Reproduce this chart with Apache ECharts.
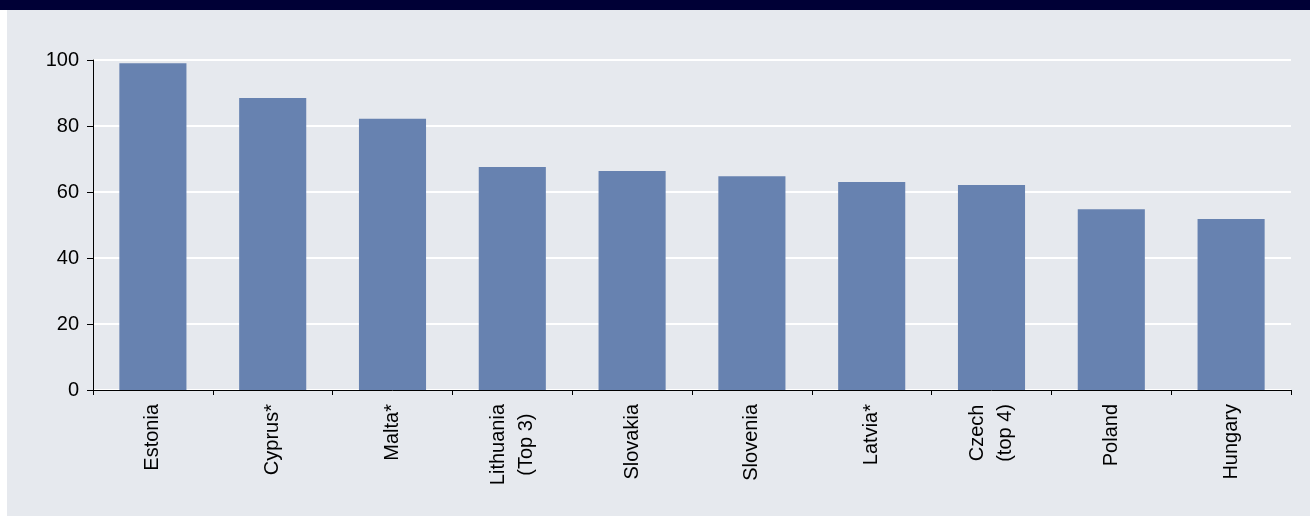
<!DOCTYPE html>
<html>
<head>
<meta charset="utf-8">
<title>Bar chart</title>
<script src="https://cdn.jsdelivr.net/npm/echarts@6/dist/echarts.min.js"></script>
<style>
  html, body { margin: 0; padding: 0; background: #ffffff; }
  #chart { width: 1310px; height: 517px; }
</style>
</head>
<body>
<div id="chart"></div>
<script>
// Countries along the category axis
const categories = ['Estonia', 'Cyprus*', 'Malta*', 'Lithuania\n(Top 3)', 'Slovakia',
                    'Slovenia', 'Latvia*', 'Czech\n(top 4)', 'Poland', 'Hungary'];
// Bar heights
const values = [99, 88.5, 82.2, 67.6, 66.4, 64.8, 63, 62.1, 54.8, 51.8];
// Value-axis ticks
const yTicks = [0, 20, 40, 60, 80, 100];

const chart = echarts.init(document.getElementById('chart'), null, { renderer: 'canvas' });

const font = 'Liberation Sans, Arial, Helvetica, sans-serif';

// Two-line names get each line centred within the label block
function categoryLabel(name) {
  const lines = name.split('\n');
  if (lines.length === 1) return name;
  return lines.map(l => '{c|' + l + '}').join('\n');
}

chart.setOption({
  animation: false,
  backgroundColor: '#ffffff',
  graphic: [
    { type: 'rect', left: 7, top: 10, z: -10, silent: true,
      shape: { width: 1303, height: 506 }, style: { fill: '#E6E9EE' } },
    { type: 'rect', left: 0, top: 0, z: -10, silent: true,
      shape: { width: 1310, height: 10 }, style: { fill: '#000036' } }
  ],
  grid: { left: 93, right: 19, top: 60, bottom: 127, containLabel: false },
  xAxis: {
    type: 'category',
    data: categories,
    axisLine: { show: true, lineStyle: { color: '#000000', width: 1 } },
    axisTick: { show: true, alignWithLabel: false, length: 5, lineStyle: { color: '#000000' } },
    axisLabel: {
      rotate: 90, interval: 0, margin: 14,
      color: '#000000', fontFamily: font, fontSize: 20, lineHeight: 28,
      formatter: categoryLabel,
      rich: {
        c: { align: 'center', color: '#000000', fontFamily: font, fontSize: 20, lineHeight: 28 }
      }
    },
    splitLine: { show: false }
  },
  yAxis: {
    type: 'value',
    min: yTicks[0],
    max: yTicks[yTicks.length - 1],
    interval: yTicks[1] - yTicks[0],
    axisLine: { show: true, lineStyle: { color: '#000000', width: 1 } },
    axisTick: { show: true, length: 6, lineStyle: { color: '#000000' } },
    axisLabel: { color: '#000000', fontFamily: font, fontSize: 20, margin: 14 },
    splitLine: { show: true, lineStyle: { color: '#ffffff', width: 2 } }
  },
  series: [{
    type: 'bar',
    data: values,
    barWidth: '56%',
    itemStyle: { color: '#6782B0' },
    silent: true
  }]
});
</script>
</body>
</html>
